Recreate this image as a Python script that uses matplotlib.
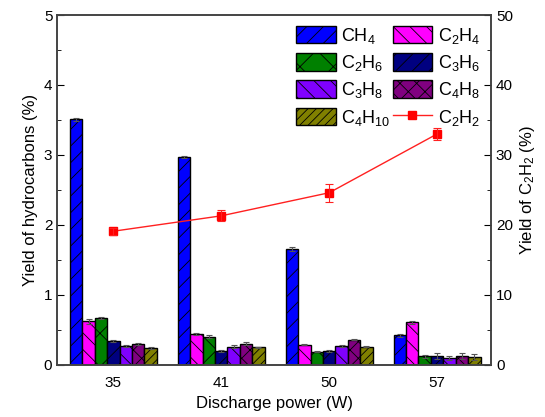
import numpy as np
import matplotlib
matplotlib.use("Agg")
import matplotlib.pyplot as plt
from matplotlib.ticker import MultipleLocator

plt.rcParams['font.family'] = ['Liberation Sans', 'DejaVu Sans']
plt.rcParams['mathtext.fontset'] = 'custom'
plt.rcParams['mathtext.rm'] = 'Liberation Sans'
plt.rcParams['hatch.linewidth'] = 0.6

powers = ['35', '41', '50', '57']
gases = [r'$\mathregular{CH_4}$', r'$\mathregular{C_2H_4}$', r'$\mathregular{C_2H_6}$',
         r'$\mathregular{C_3H_6}$', r'$\mathregular{C_3H_8}$', r'$\mathregular{C_4H_8}$',
         r'$\mathregular{C_4H_{10}}$']

ch4 = [3.51, 2.97, 1.66, 0.42]
c2h4 = [0.62, 0.44, 0.29, 0.61]
c2h6 = [0.67, 0.40, 0.19, 0.12]
c3h6 = [0.34, 0.20, 0.20, 0.13]
c3h8 = [0.27, 0.26, 0.27, 0.10]
c4h8 = [0.30, 0.30, 0.36, 0.13]
c4h10 = [0.24, 0.25, 0.26, 0.11]
yields = [ch4, c2h4, c2h6, c3h6, c3h8, c4h8, c4h10]
errs = [[0.02, 0.02, 0.03, 0.02],
        [0.03, 0.02, 0.01, 0.02],
        [0.02, 0.02, 0.01, 0.02],
        [0.01, 0.01, 0.01, 0.04],
        [0.01, 0.02, 0.02, 0.03],
        [0.01, 0.02, 0.01, 0.04],
        [0.01, 0.01, 0.01, 0.04]]

c2h2 = [19.1, 21.3, 24.6, 33.0]
c2h2_err = [0.5, 0.8, 1.3, 0.8]

colors = ['#0000ff', '#ff00ff', '#008000', '#000080', '#8000ff', '#800080', '#808000']
hatches = ['//', '\\\\', 'x', '//', '\\\\', 'xx', '////']

fig, ax = plt.subplots(figsize=(5.45, 4.17), dpi=100)
fig.subplots_adjust(left=0.105, right=0.901, bottom=0.125, top=0.964)

x = np.arange(len(powers))
w = 0.115
handles = []
for i in range(len(yields)):
    pos = x + (i - 3) * w
    b = ax.bar(pos, yields[i], w, color=colors[i], edgecolor='black', linewidth=1,
               hatch=hatches[i], label=gases[i])
    ax.errorbar(pos, yields[i], yerr=errs[i], fmt='none', ecolor='#555555',
                elinewidth=0.8, capsize=2.5, capthick=0.8)
    handles.append(b)

ax.set_xlim(-0.52, 3.5)
ax.set_ylim(0, 5)
ax.set_xticks(x)
ax.set_xticklabels(powers)
ax.yaxis.set_major_locator(MultipleLocator(1))
ax.yaxis.set_minor_locator(MultipleLocator(0.5))
ax.tick_params(axis='x', length=0, labelsize=11, pad=8)
ax.tick_params(axis='y', which='major', direction='in', length=5, labelsize=11)
ax.tick_params(axis='y', which='minor', direction='in', length=3)
ax.set_xlabel('Discharge power (W)', fontsize=12)
ax.set_ylabel('Yield of hydrocarbons (%)', fontsize=12)

ax2 = ax.twinx()
ln, = ax2.plot(x, c2h2, color='#ff2020', linewidth=1, marker='s', markersize=6,
               markerfacecolor='red', markeredgecolor='red', label=r'$\mathregular{C_2H_2}$')
ax2.errorbar(x, c2h2, yerr=c2h2_err, fmt='none', ecolor='#ff2020', elinewidth=0.8,
             capsize=3, capthick=0.8)
ax2.set_ylim(0, 50)
ax2.yaxis.set_major_locator(MultipleLocator(10))
ax2.yaxis.set_minor_locator(MultipleLocator(5))
ax2.tick_params(axis='y', which='major', direction='in', length=5, labelsize=11)
ax2.tick_params(axis='y', which='minor', direction='in', length=3)
ax2.set_ylabel(r'Yield of $\mathregular{C_2H_2}$ (%)', fontsize=12)

for a in (ax, ax2):
    for s in a.spines.values():
        s.set_color('#444444')
        s.set_linewidth(1.2)

order = [handles[0], handles[2], handles[4], handles[6],
         handles[1], handles[3], handles[5], ln]
ax2.legend(order, [h.get_label() for h in order], ncol=2, loc='upper right',
           frameon=False, fontsize=13, handlelength=2.2, handleheight=1.1,
           labelspacing=0.4, handletextpad=0.3, columnspacing=0.1,
           borderaxespad=0.2)

fig.savefig('out.png', dpi=100)
